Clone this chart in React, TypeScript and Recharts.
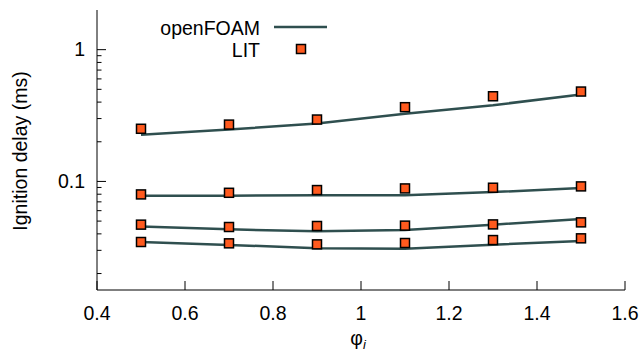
import React from 'react';
import { ComposedChart, Line, XAxis, YAxis, Legend } from 'recharts';

const FONT = '"Liberation Sans", Arial, sans-serif';
const FS = 19.5;
const LINE_COLOR = '#2f4f4f';
const MARK_COLOR = '#ff5a1e';

const phi = [0.5, 0.7, 0.9, 1.1, 1.3, 1.5];
const foam1 = [0.226, 0.248, 0.275, 0.327, 0.379, 0.456];
const lit1 = [0.251, 0.27, 0.295, 0.366, 0.443, 0.481];
const foam2 = [0.0779, 0.078, 0.0785, 0.0785, 0.083, 0.089];
const lit2 = [0.0797, 0.082, 0.086, 0.0885, 0.0896, 0.0917];
const foam3 = [0.0454, 0.0433, 0.0418, 0.0428, 0.047, 0.0518];
const lit3 = [0.047, 0.0451, 0.0459, 0.0462, 0.0472, 0.0489];
const foam4 = [0.0347, 0.033, 0.0311, 0.0309, 0.0331, 0.0353];
const lit4 = [0.0347, 0.0339, 0.0333, 0.0341, 0.0359, 0.037];

const xTicks = [0.4, 0.6, 0.8, 1, 1.2, 1.4, 1.6];
const yMajor = [0.1, 1];
const yTicks = [0.02, 0.03, 0.04, 0.05, 0.06, 0.07, 0.08, 0.09, 0.1, 0.2, 0.3, 0.4, 0.5, 0.6, 0.7, 0.8, 0.9, 1];
const yDomain = [0.015, 2];
const xDomain = [0.4, 1.6];

const data = phi.map((p, i) => ({
  phi: p,
  foam1: foam1[i], foam2: foam2[i], foam3: foam3[i], foam4: foam4[i],
  lit1: lit1[i], lit2: lit2[i], lit3: lit3[i], lit4: lit4[i],
}));

const isMajor = (v: number) => yMajor.some((m) => Math.abs(m - v) < 1e-9);

const LeftTick = (props: any) => {
  const { x, y, payload } = props;
  const major = isMajor(payload.value);
  const len = major ? 9 : 4.5;
  return (
    <g>
      <line x1={x} x2={x + len} y1={y} y2={y} stroke="#000" strokeWidth={1} />
      {major && (
        <text x={x - 12} y={y} dy="0.35em" textAnchor="end" fontFamily={FONT} fontSize={FS} fill="#000">
          {String(payload.value)}
        </text>
      )}
    </g>
  );
};

const RightTick = (props: any) => {
  const { x, y, payload } = props;
  const len = isMajor(payload.value) ? 9 : 4.5;
  return <line x1={x} x2={x - len} y1={y} y2={y} stroke="#000" strokeWidth={1} />;
};

const BottomTick = (props: any) => {
  const { x, y, payload } = props;
  return (
    <g>
      <line x1={x} x2={x} y1={y} y2={y - 9} stroke="#000" strokeWidth={1} />
      <text x={x} y={y + 30} textAnchor="middle" fontFamily={FONT} fontSize={FS} fill="#000">
        {String(payload.value)}
      </text>
    </g>
  );
};

const TopTick = (props: any) => {
  const { x, y } = props;
  return <line x1={x} x2={x} y1={y} y2={y + 9} stroke="#000" strokeWidth={1} />;
};

const SquareDot = (props: any) => {
  const { cx, cy, key } = props;
  if (cx == null || cy == null) return <g key={key} />;
  return (
    <rect key={key} x={cx - 4.5} y={cy - 4.5} width={9} height={9} fill={MARK_COLOR} stroke="#000" strokeWidth={1.5} />
  );
};

const YLabel = (props: any) => {
  const vb = props.viewBox || { x: 0, y: 10, width: 97, height: 280 };
  const cx = vb.x + 27;
  const cy = vb.y + vb.height / 2 + 1;
  return (
    <text x={cx} y={cy} textAnchor="middle" transform={`rotate(-90, ${cx}, ${cy})`} fontFamily={FONT} fontSize={FS} fill="#000">
      Ignition delay (ms)
    </text>
  );
};

const XLabel = (props: any) => {
  const vb = props.viewBox || { x: 97, y: 290, width: 528, height: 68 };
  const cx = vb.x + vb.width / 2 - 3;
  return (
    <text x={cx} y={vb.y + 55} textAnchor="middle" fontFamily={FONT} fontSize={FS} fill="#000">
      φ<tspan fontStyle="italic" fontSize={13} dy={4}>i</tspan>
    </text>
  );
};

const LegendContent = () => (
  <svg width={641} height={70} style={{ display: 'block' }}>
    <text x={260} y={34.5} textAnchor="end" fontFamily={FONT} fontSize={FS} fill="#000">openFOAM</text>
    <line x1={274} x2={327} y1={27} y2={27} stroke={LINE_COLOR} strokeWidth={2.5} />
    <text x={260} y={56.5} textAnchor="end" fontFamily={FONT} fontSize={FS} fill="#000">LIT</text>
    <rect x={296.5} y={44.5} width={9} height={9} fill={MARK_COLOR} stroke="#000" strokeWidth={1.5} />
  </svg>
);

const foamKeys = ['foam1', 'foam2', 'foam3', 'foam4'];
const litKeys = ['lit1', 'lit2', 'lit3', 'lit4'];

export default function App() {
  return (
    <div style={{ position: 'absolute', left: 0, top: 0, width: 641, height: 358, background: '#fff' }}>
      <ComposedChart width={641} height={358} data={data} margin={{ top: 10, right: 16, bottom: 0, left: 0 }}>
        <XAxis
          xAxisId="bottom"
          dataKey="phi"
          type="number"
          domain={xDomain}
          ticks={xTicks}
          orientation="bottom"
          height={68}
          tickSize={0}
          tickMargin={0}
          tickLine={false}
          axisLine={{ stroke: '#000', strokeWidth: 1 }}
          tick={<BottomTick />}
          interval={0}
          allowDataOverflow
          label={<XLabel />}
        />
        <XAxis
          xAxisId="top"
          dataKey="phi"
          type="number"
          domain={xDomain}
          ticks={xTicks}
          orientation="top"
          height={0}
          tickSize={0}
          tickMargin={0}
          tickLine={false}
          axisLine={{ stroke: '#000', strokeWidth: 1 }}
          tick={<TopTick />}
          interval={0}
          allowDataOverflow
        />
        <YAxis
          yAxisId="left"
          type="number"
          scale="log"
          domain={yDomain}
          ticks={yTicks}
          width={97}
          tickSize={0}
          tickMargin={0}
          tickLine={false}
          axisLine={{ stroke: '#000', strokeWidth: 1 }}
          tick={<LeftTick />}
          interval={0}
          allowDataOverflow
          label={<YLabel />}
        />
        <YAxis
          yAxisId="right"
          orientation="right"
          type="number"
          scale="log"
          domain={yDomain}
          ticks={yTicks}
          width={0}
          tickSize={0}
          tickMargin={0}
          tickLine={false}
          axisLine={{ stroke: '#000', strokeWidth: 1 }}
          tick={<RightTick />}
          interval={0}
          allowDataOverflow
        />
        <Legend
          layout="horizontal"
          verticalAlign="middle"
          align="center"
          wrapperStyle={{ position: 'absolute', left: 0, top: 0, width: 641, height: 70, margin: 0, pointerEvents: 'none' }}
          content={<LegendContent />}
        />
        {foamKeys.map((k) => (
          <Line
            key={k}
            xAxisId="bottom"
            yAxisId="left"
            dataKey={k}
            type="linear"
            stroke={LINE_COLOR}
            strokeWidth={2.5}
            dot={false}
            activeDot={false}
            isAnimationActive={false}
            legendType="none"
          />
        ))}
        {litKeys.map((k) => (
          <Line
            key={k}
            xAxisId="bottom"
            yAxisId="left"
            dataKey={k}
            type="linear"
            stroke="none"
            dot={SquareDot}
            activeDot={false}
            isAnimationActive={false}
            legendType="none"
          />
        ))}
      </ComposedChart>
    </div>
  );
}
